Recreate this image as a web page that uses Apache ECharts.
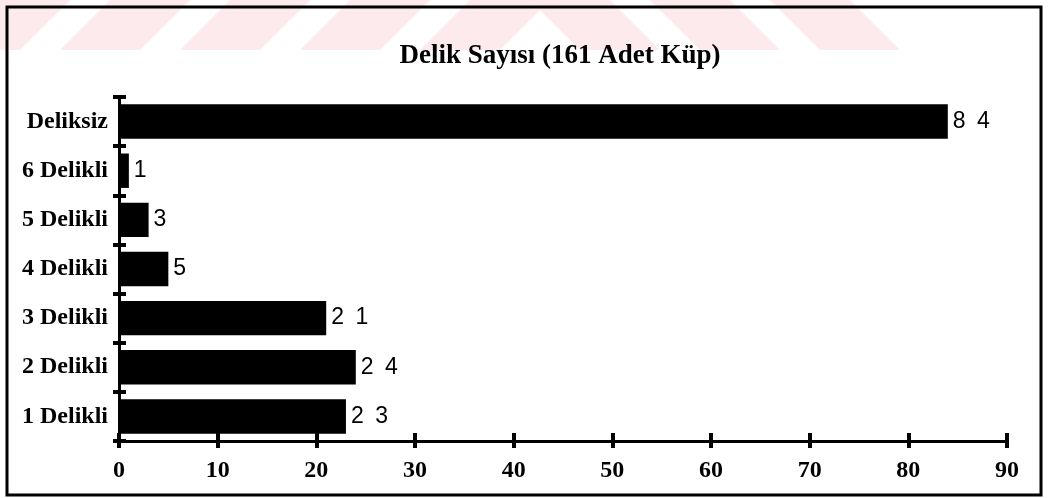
<!DOCTYPE html>
<html>
<head>
<meta charset="utf-8">
<script src="https://cdn.jsdelivr.net/npm/echarts@6/dist/echarts.min.js"></script>
<style>
  html, body { margin: 0; padding: 0; background: #fff; }
  #chart { width: 1048px; height: 498px; }
</style>
</head>
<body>
<div id="chart"></div>
<script>
// kategoriler alttan üste
const categories = ['1 Delikli', '2 Delikli', '3 Delikli', '4 Delikli', '5 Delikli', '6 Delikli', 'Deliksiz']
const counts = [23, 24, 21, 5, 3, 1, 84]
const xTicks = [0, 10, 20, 30, 40, 50, 60, 70, 80, 90]
const titleText = 'Delik Sayısı (161 Adet Küp)'

const serif = 'Liberation Serif, Times New Roman, serif'
const sans = 'Liberation Sans, Arial, sans-serif'

// arka plandaki soluk pembe çizgiler (taramadaki filigran)
function watermark() {
    const out = []
    const pink = '#fdeaed'
    for (let x0 = -60; x0 < 520; x0 += 120) {
        out.push({
            type: 'polygon', silent: true, z: -10,
            shape: { points: [[x0, 50], [x0 + 80, 50], [x0 + 130, 0], [x0 + 50, 0]] },
            style: { fill: pink }
        })
    }
    for (let x0 = 530; x0 < 880; x0 += 120) {
        out.push({
            type: 'polygon', silent: true, z: -10,
            shape: { points: [[x0, 0], [x0 + 80, 0], [x0 + 130, 50], [x0 + 50, 50]] },
            style: { fill: pink }
        })
    }
    return out
}

const chart = echarts.init(document.getElementById('chart'))

const valueAxisBase = {
    type: 'value',
    min: 0,
    max: 90,
    interval: 10,
    position: 'bottom',
    splitLine: { show: false }
}
const catAxisBase = {
    type: 'category',
    data: categories,
    position: 'left',
    boundaryGap: true,
    splitLine: { show: false }
}

chart.setOption({
    backgroundColor: '#fff',
    animation: false,
    title: {
        text: titleText,
        left: 555,
        top: 38,
        textAlign: 'center',
        textStyle: { fontFamily: serif, fontWeight: 'bold', fontSize: 27, color: '#000' }
    },
    grid: { left: 119, right: 41, top: 97, bottom: 57, containLabel: false },
    xAxis: [
        Object.assign({}, valueAxisBase, {
            axisLine: { show: true, lineStyle: { color: '#000', width: 3 } },
            axisTick: { show: true, length: 7, lineStyle: { color: '#000', width: 4 } },
            axisLabel: {
                show: true, margin: 18, color: '#000',
                fontFamily: serif, fontWeight: 'bold', fontSize: 24,
                formatter: v => (xTicks.indexOf(v) >= 0 ? String(v) : '')
            }
        }),
        Object.assign({}, valueAxisBase, {
            axisLine: { show: false },
            axisTick: { show: true, inside: true, length: 8, lineStyle: { color: '#000', width: 4 } },
            axisLabel: { show: false }
        })
    ],
    yAxis: [
        Object.assign({}, catAxisBase, {
            axisLine: { show: true, lineStyle: { color: '#000', width: 3 } },
            axisTick: { show: true, length: 6, lineStyle: { color: '#000', width: 4 } },
            axisLabel: {
                margin: 11, color: '#000',
                fontFamily: serif, fontWeight: 'bold', fontSize: 24
            }
        }),
        Object.assign({}, catAxisBase, {
            axisLine: { show: false },
            axisTick: { show: true, inside: true, length: 7, lineStyle: { color: '#000', width: 4 } },
            axisLabel: { show: false }
        })
    ],
    series: [{
        type: 'bar',
        xAxisIndex: 0,
        yAxisIndex: 0,
        data: counts,
        barCategoryGap: '30%',
        itemStyle: { color: '#000' },
        label: {
            show: true,
            position: 'right',
            distance: 5,
            color: '#000',
            fontFamily: sans,
            fontSize: 23,
            formatter: p => String(p.value).split('').join('\u2002')
        }
    }],
    graphic: watermark().concat([{
        type: 'rect', silent: true, z: 100,
        shape: { x: 7, y: 7, width: 1034, height: 488 },
        style: { fill: 'none', stroke: '#000', lineWidth: 3 }
    }])
})
</script>
</body>
</html>
